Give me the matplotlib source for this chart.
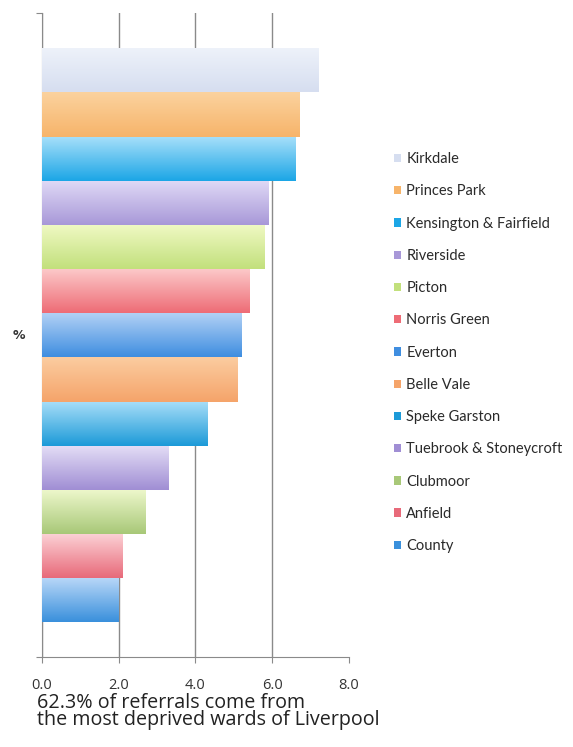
import numpy as np
import matplotlib
matplotlib.use('Agg')
import matplotlib.pyplot as plt
from matplotlib.colors import to_rgb
from matplotlib.patches import Patch

# данные: доля направлений по районам, %
wards = ['Kirkdale', 'Princes Park', 'Kensington & Fairfield', 'Riverside', 'Picton',
         'Norris Green', 'Everton', 'Belle Vale', 'Speke Garston',
         'Tuebrook & Stoneycroft', 'Clubmoor', 'Anfield', 'County']
values = [7.2, 6.7, 6.6, 5.9, 5.8, 5.4, 5.2, 5.1, 4.3, 3.3, 2.7, 2.1, 2.0]

# цвета градиента: верх / низ полосы
top_colors = ['#eef2fa', '#fbd29e', '#a8e0fa', '#e0daf6', '#f0f9c4', '#fccaca', '#b4d2f6',
              '#fbcca0', '#a8def8', '#e4def6', '#eef8cc', '#fcd2d6', '#bad8f8']
bottom_colors = ['#d6def0', '#f7b46a', '#1ca6e6', '#a898d8', '#c2e07c', '#ee6c76', '#3f8ee0',
                 '#f5a46a', '#1c9ad8', '#a08ed4', '#a8c878', '#e86a7a', '#3a90dc']

fig = plt.figure(figsize=(5.73, 7.47), dpi=100)
ax = fig.add_axes([0.073, 0.12, 0.536, 0.862])

ypos = np.arange(len(wards))
grad = np.linspace(0, 1, 64)[:, None]
for y, v, c1, c2 in zip(ypos, values, top_colors, bottom_colors):
    bar = ax.barh(y, v, height=1.0, color=c2, linewidth=0, zorder=2)[0]
    a, b = np.array(to_rgb(c1)), np.array(to_rgb(c2))
    img = a[None, None, :] * (1 - grad[:, :, None]) + b[None, None, :] * grad[:, :, None]
    im = ax.imshow(img, extent=(0, v, y + 0.5, y - 0.5), aspect='auto', zorder=3,
                   interpolation='bilinear')
    im.set_clip_path(bar)

ax.set_xlim(0, 8)
ax.set_ylim(13.29, -1.29)
ax.set_xticks([0, 2, 4, 6, 8])
ax.set_xticklabels(['0.0', '2.0', '4.0', '6.0', '8.0'], fontfamily='Open Sans',
                   fontsize=10.5, color='#333333')
ax.set_yticks([13.29, -1.29])
ax.set_yticklabels([])
ax.grid(axis='x', color='#8a8a8a', linewidth=1.0, zorder=0)
ax.xaxis.get_gridlines()[-1].set_visible(False)
ax.set_axisbelow(True)
ax.tick_params(axis='x', direction='out', length=4, color='#8a8a8a', pad=11)
ax.tick_params(axis='y', direction='out', length=4, color='#8a8a8a')
for s in ['top', 'right']:
    ax.spines[s].set_visible(False)
for s in ['left', 'bottom']:
    ax.spines[s].set_color('#8a8a8a')

ax.set_ylabel('%', rotation=0, fontsize=9, fontweight='bold', color='#333333',
              labelpad=9, va='center')

handles = [Patch(facecolor=c2, edgecolor='none') for c2 in bottom_colors]
leg = fig.legend(handles, wards, loc='upper left', bbox_to_anchor=(0.677, 0.804),
                 frameon=False, prop={'family': 'Lato', 'size': 10.5},
                 labelspacing=1.25, handlelength=0.5, handleheight=0.5,
                 handletextpad=0.35, borderaxespad=0)
for t in leg.get_texts():
    t.set_color('#2a2a2a')

fig.text(0.064, 0.047, '62.3% of referrals come from\nthe most deprived wards of Liverpool',
         fontfamily='Open Sans', fontsize=14.2, color='#222222', linespacing=0.8,
         va='center', ha='left')

fig.savefig('out.png', dpi=100)
